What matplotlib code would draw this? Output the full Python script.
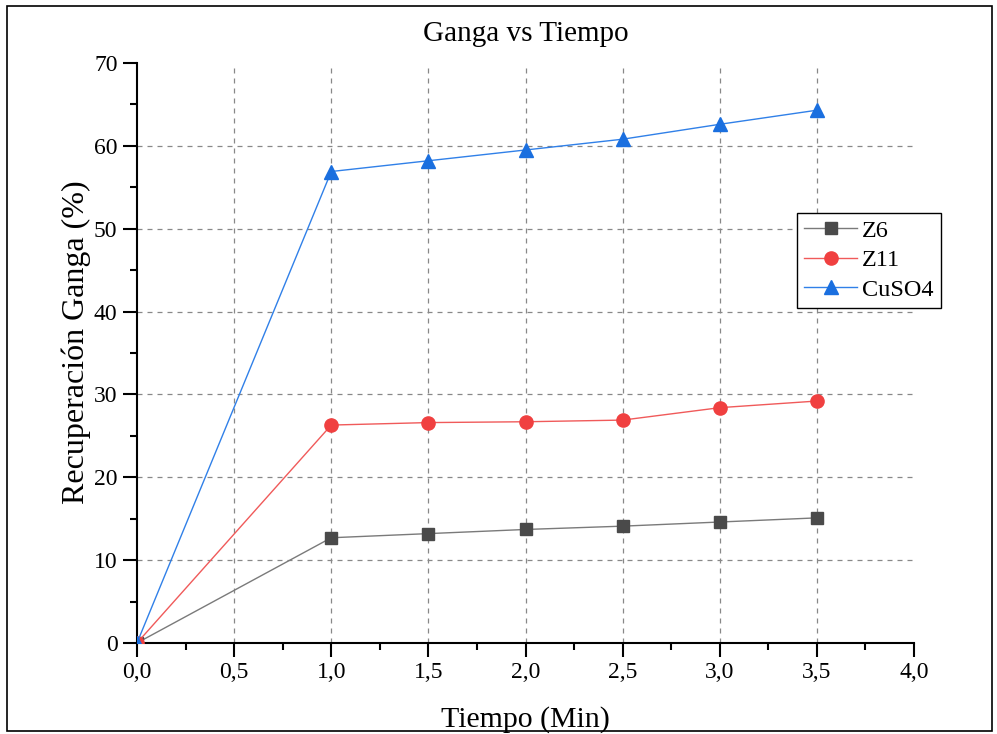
import matplotlib.pyplot as plt
from matplotlib.ticker import MultipleLocator, FuncFormatter
from matplotlib.patches import Rectangle

plt.rcParams['font.family'] = ['Liberation Serif', 'DejaVu Serif']

tiempo = [0.0, 1.0, 1.5, 2.0, 2.5, 3.0, 3.5]
z6 = [0.0, 12.7, 13.2, 13.7, 14.1, 14.6, 15.1]
z11 = [0.0, 26.3, 26.6, 26.7, 26.9, 28.4, 29.2]
cuso4 = [0.0, 56.9, 58.2, 59.5, 60.8, 62.6, 64.3]

fig = plt.figure(figsize=(9.97, 7.34), dpi=100)
ax = fig.add_axes([0.1374, 0.124, 0.7794, 0.7902])

ax.plot(tiempo, z6, color='#7a7a7a', lw=1.0, marker='s', ms=9,
        mfc='#4a4a4a', mec='#4a4a4a', label='Z6', zorder=3)
ax.plot(tiempo, z11, color='#f05a5a', lw=1.0, marker='o', ms=9.5,
        mfc='#f04040', mec='#f04040', label='Z11', zorder=3)
ax.plot(tiempo, cuso4, color='#3080e8', lw=1.0, marker='^', ms=10.5,
        mfc='#1a6fdf', mec='#1a6fdf', label='CuSO4', zorder=3)

ax.set_xlim(0, 4.0)
ax.set_ylim(0, 70)
ax.xaxis.set_major_locator(MultipleLocator(0.5))
ax.xaxis.set_minor_locator(MultipleLocator(0.25))
ax.yaxis.set_major_locator(MultipleLocator(10))
ax.yaxis.set_minor_locator(MultipleLocator(5))
ax.xaxis.set_major_formatter(FuncFormatter(lambda v, p: f'{v:.1f}'.replace('.', ',')))
ax.yaxis.set_major_formatter(FuncFormatter(lambda v, p: f'{v:.0f}'))

ax.tick_params(which='major', direction='out', length=10, width=1.5, labelsize=17, pad=4)
ax.tick_params(which='minor', direction='out', length=5, width=1.5)

for s in ['top', 'right']:
    ax.spines[s].set_visible(False)
for s in ['left', 'bottom']:
    ax.spines[s].set_linewidth(1.5)

# dashed grid at the major ticks, skipping the axis lines
for xv in [0.5, 1.0, 1.5, 2.0, 2.5, 3.0, 3.5]:
    ax.axvline(xv, color='#888888', ls=(0, (4, 4)), lw=0.9, zorder=1)
for yv in [10, 20, 30, 40, 50, 60]:
    ax.axhline(yv, color='#888888', ls=(0, (4, 4)), lw=0.9, zorder=1)

ax.set_xlabel('Tiempo (Min)', fontsize=21.5, labelpad=16)
ax.set_ylabel('Recuperación Ganga (%)', fontsize=23, labelpad=2)
ax.yaxis.label.set_y(0.519)
ax.set_title('Ganga vs Tiempo', fontsize=21, pad=16)

leg = ax.legend(loc='upper left', bbox_to_anchor=(0.849, 0.742), fontsize=17.5,
                frameon=True, fancybox=False, edgecolor='black', framealpha=1,
                handlelength=2.2, borderpad=0.3, labelspacing=0.3, handletextpad=0.2,
                borderaxespad=0)
leg.get_frame().set_linewidth(1.0)

fig.patches.append(Rectangle((0.007, 0.004), 0.988, 0.988, transform=fig.transFigure,
                             fill=False, edgecolor='black', lw=1.2))

fig.savefig('out.png', dpi=100)
